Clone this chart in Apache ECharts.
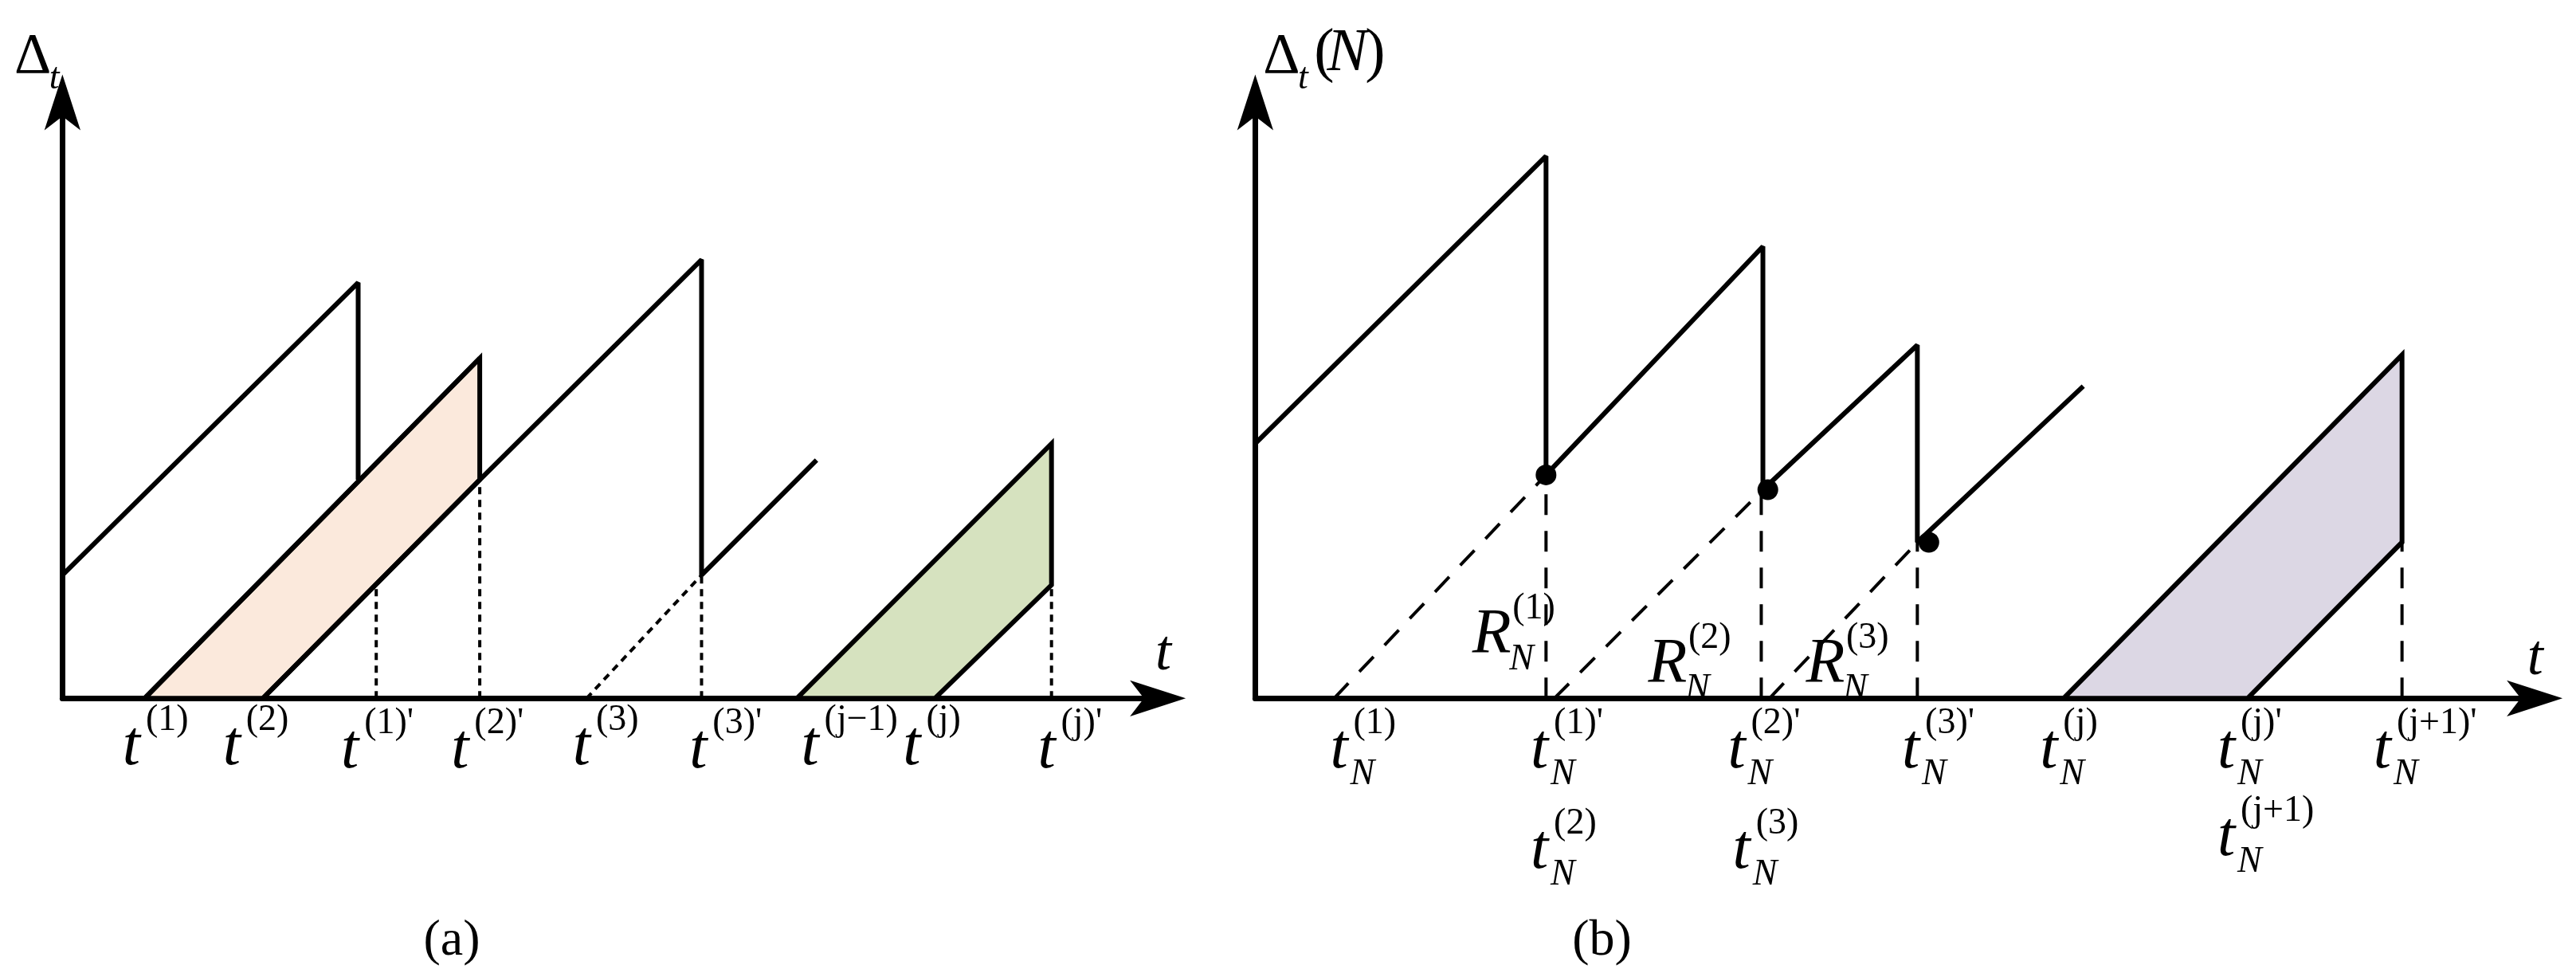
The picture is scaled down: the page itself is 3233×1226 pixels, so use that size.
<!DOCTYPE html>
<html><head><meta charset="utf-8">
<script src="https://cdn.jsdelivr.net/npm/echarts@6/dist/echarts.min.js"></script>
<style>html,body{margin:0;padding:0;background:#fff}#c{width:3233px;height:1226px}</style>
</head><body><div id="c"></div>
<script>
// ---- Panel (a) data (t, Δt) ----
const aSaw1 = [[0,75],[180,253],[180,133]];
const aUpper = [[50,0],[254,207]];
const aSaw2 = [[122,0],[254,133],[389,267],[389,75],[459,145]];
const aOrange = [[50,0],[254,207],[254,133],[122,0]];
const aGreen = [[447,0],[602,155],[602,69],[531,0]];
const aDotted = [[[191,0],[191,68]],[[254,0],[254,133]],[[319,0],[389,75]],[[389,0],[389,75]],[[602,0],[602,69]]];
const aLabels = [
  {x:42,y:-30,m:'t',sup:'(1)'},{x:103,y:-30,m:'t',sup:'(2)'},{x:175,y:-32,m:'t',sup:"(1)'"},
  {x:242,y:-32,m:'t',sup:"(2)'"},{x:316,y:-30,m:'t',sup:'(3)'},{x:387,y:-32,m:'t',sup:"(3)'"},
  {x:455,y:-30,m:'t',sup:'(j−1)'},{x:517,y:-30,m:'t',sup:'(j)'},{x:599,y:-32,m:'t',sup:"(j)'"}
];
// ---- Panel (b) data (t, Δt(N)) ----
const bSaw = [[0,155],[177,330],[177,136],[309,275],[309,127],[403,215],[403,95],[504,190]];
const bDots = [[177,136],[312,127],[410,95]];
const bDashed = [[[48,0],[177,136]],[[182,0],[309,127]],[[313,0],[403,95]],
  [[177,0],[177,136]],[[308,0],[308,127]],[[403,0],[403,95]],[[698,0],[698,95]]];
const bPurple = [[492,0],[698,209],[698,95],[604,0]];
const bLabels = [
  {x:51,y:-32,m:'t',sup:'(1)',sub:'N'},{x:173,y:-32,m:'t',sup:"(1)'",sub:'N'},{x:173,y:-93,m:'t',sup:'(2)',sub:'N'},
  {x:293,y:-32,m:'t',sup:"(2)'",sub:'N'},{x:296,y:-93,m:'t',sup:'(3)',sub:'N'},{x:399,y:-32,m:'t',sup:"(3)'",sub:'N'},
  {x:483,y:-32,m:'t',sup:'(j)',sub:'N'},{x:591,y:-32,m:'t',sup:"(j)'",sub:'N'},{x:591,y:-85,m:'t',sup:'(j+1)',sub:'N'},
  {x:686,y:-32,m:'t',sup:"(j+1)'",sub:'N'},
  {x:144,y:38,m:'R',sup:'(1)',sub:'N'},{x:251,y:20,m:'R',sup:'(2)',sub:'N'},{x:347,y:20,m:'R',sup:'(3)',sub:'N'}
];

const chart = echarts.init(document.getElementById('c'));
const S = 2.062;
const AX = {lineStyle:{color:'#000',width:7},symbol:['none','arrow'],symbolSize:[34,70],symbolOffset:[0,20]};
function axes(idx,max){
  return {
    x:{type:'value',gridIndex:idx,min:0,max:max,axisLine:{show:true,onZero:false,...AX},axisTick:{show:false},axisLabel:{show:false},splitLine:{show:false}},
    y:{type:'value',gridIndex:idx,min:0,max:370,axisLine:{show:true,...AX},axisTick:{show:false},axisLabel:{show:false},splitLine:{show:false}}
  };
}
const A = axes(0,674), B = axes(1,786);
function line(data,idx,type,dash){
  return {type:'line',xAxisIndex:idx,yAxisIndex:idx,data:data,symbol:'none',silent:true,animation:false,z:5,
    lineStyle:{color:'#000',width:type?4:6,type:type?dash:'solid'}};
}
function poly(data,idx,color){
  return {type:'custom',xAxisIndex:idx,yAxisIndex:idx,data:[0],animation:false,z:2,
    renderItem:(p,api)=>({type:'polygon',shape:{points:data.map(d=>api.coord(d))},style:{fill:color,stroke:'#000',lineWidth:6}})};
}
const series = [
  poly(aOrange,0,'#fbe9dc'), poly(aGreen,0,'#d6e2bf'), poly(bPurple,1,'#dcd7e4'),
  line(aSaw1,0), line(aUpper,0), line(aSaw2,0),
  ...aDotted.map(d=>line(d,0,true,[9,7])),
  line(bSaw,1),
  ...bDashed.map(d=>line(d,1,true,[26,20])),
  {type:'scatter',xAxisIndex:1,yAxisIndex:1,data:bDots,symbolSize:26,itemStyle:{color:'#000',opacity:1},z:6,animation:false}
];
chart.setOption({
  animation:false,
  grid:[{left:38*S,top:55*S,width:674*S,height:370*S},{left:764*S,top:55*S,width:786*S,height:370*S}],
  xAxis:[A.x,B.x], yAxis:[A.y,B.y], series
});
const SERIF = '"Liberation Serif","DejaVu Serif",serif';
const g = [];
function txt(x,y,s,size,italic,align){
  g.push({type:'text',x:x,y:y,style:{text:s,font:(italic?'italic ':'')+size+'px '+SERIF,fill:'#000',textAlign:align||'center',textVerticalAlign:'middle'}});
}
function drawLabels(list,idx){
  list.forEach(l=>{
    const p = chart.convertToPixel({gridIndex:idx},[l.x,l.y]);
    txt(p[0],p[1],l.m,80,true);
    if(l.sup) txt(p[0]+(l.m==='R'?26:18),p[1]-34,l.sup,46,false,'left');
    if(l.sub) txt(p[0]+(l.m==='R'?22:14),p[1]+30,l.sub,46,true,'left');
  });
}
drawLabels(aLabels,0); drawLabels(bLabels,1);
// axis names and captions
txt(20*S,35*S,'Δ',72,false); txt(30*S,48*S,'t',46,true,'left');
txt(780*S,35*S,'Δ',72,false); txt(790*S,48*S,'t',46,true,'left');
txt(806*S,33*S,'(',76,false); txt(820*S,33*S,'N',76,true); txt(837*S,33*S,')',76,false);
txt(708*S,398*S,'t',72,true); txt(1543*S,401*S,'t',72,true);
txt(275*S,573*S,'(a)',64,false); txt(975*S,573*S,'(b)',64,false);
chart.setOption({graphic:g});
</script></body></html>
